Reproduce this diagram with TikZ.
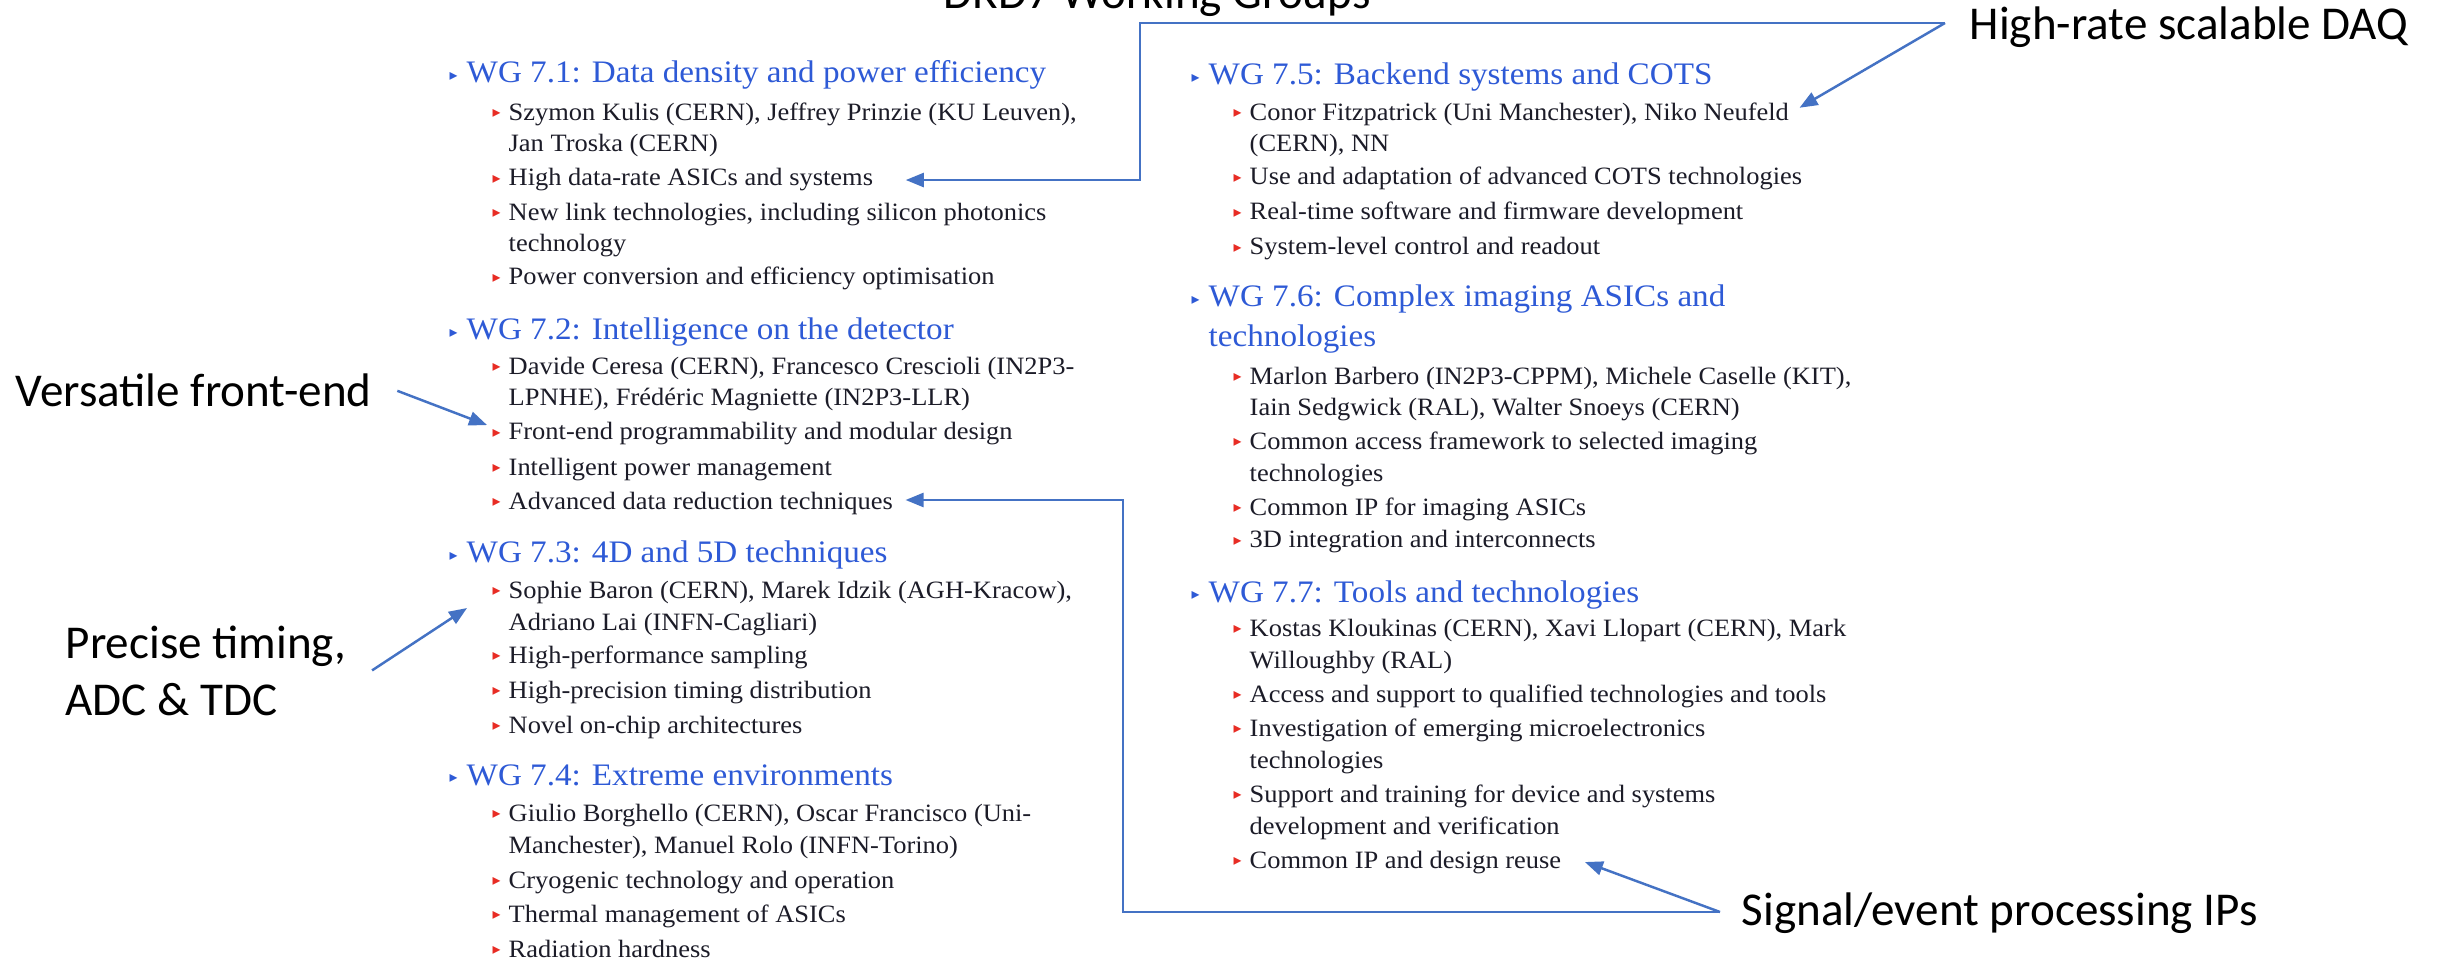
\documentclass[tikz,border=0pt]{standalone}
\usepackage{fontspec}
\usepackage{xcolor}
\usepackage{tikz}
\usetikzlibrary{arrows.meta}

\newfontfamily\wgfont{Liberation Serif}[FakeStretch=1.06]
\newfontfamily\notefont{Carlito}
\newfontfamily\bulfont{DejaVu Sans}

\definecolor{wgblue}{RGB}{46,90,214}
\definecolor{bulred}{RGB}{232,44,36}
\definecolor{bodytxt}{RGB}{28,28,40}
\definecolor{connblue}{RGB}{68,114,196}

\newcommand{\hdbul}{\makebox[1.7mm][l]{\bulfont\fontsize{4.5}{4.5}\selectfont\color{wgblue}\raisebox{0.8pt}{▸}}}
\newcommand{\subbul}{\makebox[1.6mm][l]{\bulfont\fontsize{4.5}{4.5}\selectfont\color{bulred}\raisebox{0.8pt}{▸}}}
\newcommand{\hdind}{\hspace*{1.7mm}}
\newcommand{\contind}{\hspace*{1.6mm}}

\begin{document}
\begin{tikzpicture}[x=0.1mm, y=-0.1mm,
    wghead/.style={anchor=base west, inner sep=0pt, align=left, text=wgblue, font=\wgfont\fontsize{8.9}{11.4}\selectfont},
    wgitem/.style={anchor=base west, inner sep=0pt, align=left, text=bodytxt, font=\wgfont\fontsize{7.1}{9.1}\selectfont},
    note/.style={anchor=base west, inner sep=0pt, align=left, text=black, font=\notefont\fontsize{13.4}{16.2}\selectfont},
    link/.style={draw=connblue, line width=0.7pt},
    arrow/.style={link, -{Triangle[length=1.8mm,width=1.4mm]}}]

    \path[fill=white] (0,0) rectangle (2440,961);
    \useasboundingbox (0,0) rectangle (2440,961);

    \node [note] (title) at (943,9) {DRD7 Working Groups};

    % left column (multi-line nodes sit on their last baseline)
    \node [wghead] (h71) at (449,83) {\hdbul WG 7.1: Data density and power efficiency};
    \node [wgitem] (a1) at (492,152) {\subbul Szymon Kulis (CERN), Jeffrey Prinzie (KU Leuven),\\\contind Jan Troska (CERN)};
    \node [wgitem] (a2) at (492,186) {\subbul High data-rate ASICs and systems};
    \node [wgitem] (a3) at (492,252) {\subbul New link technologies, including silicon photonics\\\contind technology};
    \node [wgitem] (a4) at (492,285) {\subbul Power conversion and efficiency optimisation};

    \node [wghead] (h72) at (449,340) {\hdbul WG 7.2: Intelligence on the detector};
    \node [wgitem] (b1) at (492,406) {\subbul Davide Ceresa (CERN), Francesco Crescioli (IN2P3-\\\contind LPNHE), Frédéric Magniette (IN2P3-LLR)};
    \node [wgitem] (b2) at (492,440) {\subbul Front-end programmability and modular design};
    \node [wgitem] (b3) at (492,475) {\subbul Intelligent power management};
    \node [wgitem] (b4) at (492,509) {\subbul Advanced data reduction techniques};

    \node [wghead] (h73) at (449,563) {\hdbul WG 7.3: 4D and 5D techniques};
    \node [wgitem] (c1) at (492,630) {\subbul Sophie Baron (CERN), Marek Idzik (AGH-Kracow),\\\contind Adriano Lai (INFN-Cagliari)};
    \node [wgitem] (c2) at (492,663) {\subbul High-performance sampling};
    \node [wgitem] (c3) at (492,698) {\subbul High-precision timing distribution};
    \node [wgitem] (c4) at (492,733) {\subbul Novel on-chip architectures};

    \node [wghead] (h74) at (449,785) {\hdbul WG 7.4: Extreme environments};
    \node [wgitem] (d1) at (492,853) {\subbul Giulio Borghello (CERN), Oscar Francisco (Uni-\\\contind Manchester), Manuel Rolo (INFN-Torino)};
    \node [wgitem] (d2) at (492,888) {\subbul Cryogenic technology and operation};
    \node [wgitem] (d3) at (492,922) {\subbul Thermal management of ASICs};
    \node [wgitem] (d4) at (492,957) {\subbul Radiation hardness};

    % right column
    \node [wghead] (h75) at (1191,85) {\hdbul WG 7.5: Backend systems and COTS};
    \node [wgitem] (e1) at (1233,152) {\subbul Conor Fitzpatrick (Uni Manchester), Niko Neufeld\\\contind (CERN), NN};
    \node [wgitem] (e2) at (1233,185) {\subbul Use and adaptation of advanced COTS technologies};
    \node [wgitem] (e3) at (1233,220) {\subbul Real-time software and firmware development};
    \node [wgitem] (e4) at (1233,255) {\subbul System-level control and readout};

    \node [wghead] (h76) at (1191,347) {\hdbul WG 7.6: Complex imaging ASICs and\\\hdind technologies};
    \node [wgitem] (f1) at (1233,416) {\subbul Marlon Barbero (IN2P3-CPPM), Michele Caselle (KIT),\\\contind Iain Sedgwick (RAL), Walter Snoeys (CERN)};
    \node [wgitem] (f2) at (1233,481) {\subbul Common access framework to selected imaging\\\contind technologies};
    \node [wgitem] (f3) at (1233,515) {\subbul Common IP for imaging ASICs};
    \node [wgitem] (f4) at (1233,548) {\subbul 3D integration and interconnects};

    \node [wghead] (h77) at (1191,602) {\hdbul WG 7.7: Tools and technologies};
    \node [wgitem] (g1) at (1233,668) {\subbul Kostas Kloukinas (CERN), Xavi Llopart (CERN), Mark\\\contind Willoughby (RAL)};
    \node [wgitem] (g2) at (1233,702) {\subbul Access and support to qualified technologies and tools};
    \node [wgitem] (g3) at (1233,768) {\subbul Investigation of emerging microelectronics\\\contind technologies};
    \node [wgitem] (g4) at (1233,834) {\subbul Support and training for device and systems\\\contind development and verification};
    \node [wgitem] (g5) at (1233,868) {\subbul Common IP and design reuse};

    % call-outs
    \node [note] (vfe) at (15,407) {Versatile front-end};
    \node [note] (timing) at (65,715) {Precise timing,\\ADC \& TDC};
    \node [note] (daq) at (1969,40) {High-rate scalable DAQ};
    \node [note] (sig) at (1741,925) {Signal/event processing IPs};

    \coordinate (daqfork) at (1945,23);
    \coordinate (daqbend) at (1140,23);
    \coordinate (sigfork) at (1720,912);
    \coordinate (sigbend) at (1123,912);

    \draw [arrow] (daqfork) -- (daqbend) |- ([xshift=3.2mm]a2.east);
    \draw [arrow] (daqfork) -- ([xshift=1mm,yshift=-0.6mm]e1.north east);
    \draw [arrow] (sigfork) -- (sigbend) |- ([xshift=1.2mm,yshift=0.3mm]b4.east);
    \draw [arrow] (sigfork) -- ([xshift=2.3mm]g5.east);
    \draw [arrow] ([xshift=2.5mm]vfe.east) -- ([xshift=-0.5mm,yshift=0.9mm]b2.west);
    \draw [arrow] ([xshift=2.5mm]timing.east) -- ([xshift=-2.5mm]c1.west);
\end{tikzpicture}
\end{document}
